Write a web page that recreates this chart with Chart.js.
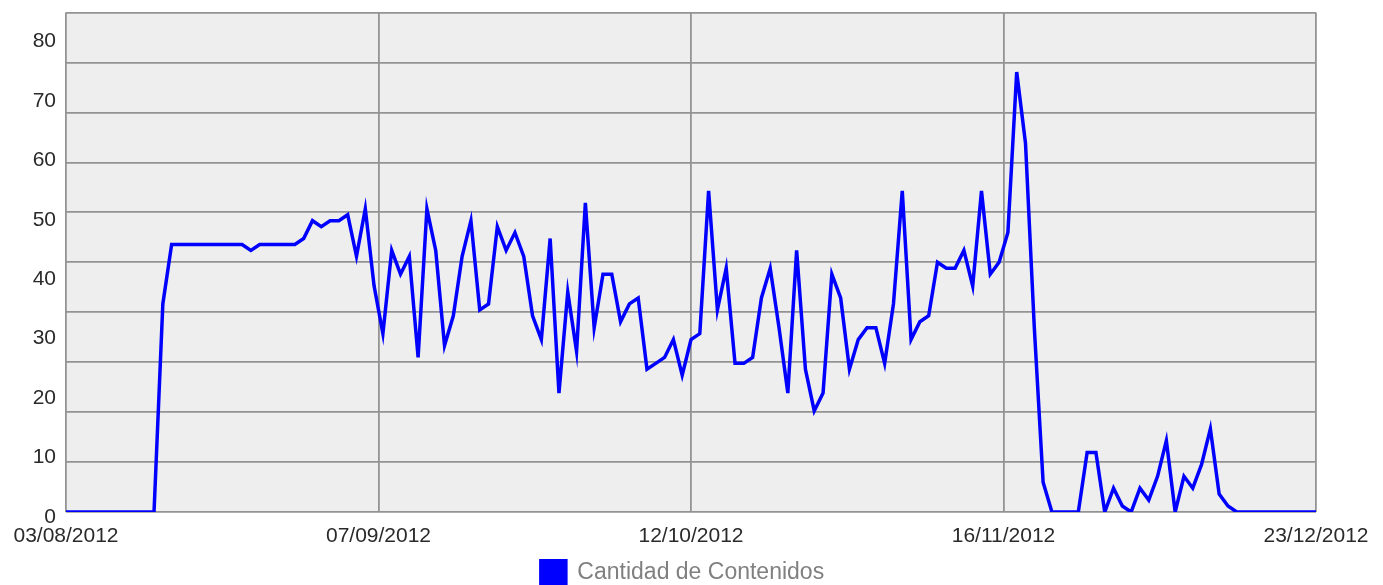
<!DOCTYPE html>
<html>
<head>
<meta charset="utf-8">
<script src="https://cdn.jsdelivr.net/npm/chart.js@4.4.1/dist/chart.umd.min.js"></script>
<style>
  html, body { margin: 0; padding: 0; background: #fff; }
  canvas { display: block; }
</style>
</head>
<body>
<canvas id="chart" width="1383" height="585"></canvas>
<script>
// daily values, 03/08/2012 .. 23/12/2012
const values = [
  0,0,0,0,0,0,0,0,0,0,0,
  35,45,45,45,45,45,45,45,45,45,44,45,45,45,45,45,
  46,49,48,49,49,50,43,51,38,30,44,40,43,26,51,44,28,33,43,49,34,35,48,44,47,43,33,29,
  46,20,37,27,52,31,40,40,32,35,36,24,25,26,29,23,29,30,54,34,41,25,25,26,36,41,31,20,
  44,24,17,20,40,36,24,29,31,31,25,35,54,29,32,33,42,41,41,44,38,54,40,42,47,74,62,31,5,
  0,0,0,0,10,10,0,4,1,0,4,2,6,12,0,6,4,8,14,3,1,
  0,0,0,0,0,0,0,0,0,0
];
const xTickLabels = ['03/08/2012', '07/09/2012', '12/10/2012', '16/11/2012', '23/12/2012'];
const yTickValues = [0, 10, 20, 30, 40, 50, 60, 70, 80];
const seriesName = 'Cantidad de Contenidos';

const lastIdx = values.length - 1;
const xTickPos = xTickLabels.map((_, i) => lastIdx * i / (xTickLabels.length - 1));
const gridColor = '#939393';
const tickFont = { family: 'Liberation Sans', size: 21 };

const plotBg = {
  id: 'plotBg',
  beforeDraw(chart) {
    const a = chart.chartArea, c = chart.ctx;
    c.save();
    c.fillStyle = '#eeeeee';
    c.fillRect(a.left, a.top, a.right - a.left, a.bottom - a.top);
    c.restore();
  }
};

new Chart(document.getElementById('chart'), {
  type: 'line',
  data: {
    datasets: [{
      label: seriesName,
      data: values.map((v, i) => ({ x: i, y: v })),
      xAxisID: 'x',
      yAxisID: 'y',
      borderColor: '#0000ff',
      backgroundColor: '#0000ff',
      borderWidth: 3.5,
      pointRadius: 0,
      tension: 0
    }]
  },
  options: {
    responsive: false,
    animation: false,
    layout: { padding: { left: 0, right: 18, top: 12, bottom: -10 } },
    plugins: {
      tooltip: { enabled: false },
      legend: {
        position: 'bottom',
        labels: {
          boxWidth: 25, boxHeight: 25, padding: 1,
          color: '#808080',
          font: { family: 'Liberation Sans', size: 23 }
        }
      }
    },
    scales: {
      x: {
        type: 'linear', min: 0, max: lastIdx,
        afterBuildTicks: s => { s.ticks = xTickPos.map(v => ({ value: v })); },
        afterFit: s => { s.height = 47; },
        ticks: {
          autoSkip: false, maxRotation: 0, padding: 12,
          color: '#2a2a2a', font: tickFont,
          callback: (v, i) => xTickLabels[i]
        },
        grid: { color: gridColor, lineWidth: 1.8, drawTicks: false },
        border: { display: false }
      },
      // horizontal grid: 10 equal bands, drawn by its own hidden axis
      yg: {
        position: 'left',
        min: 0, max: 10,
        ticks: { display: false, stepSize: 1 },
        afterFit: s => { s.width = 10; },
        grid: { color: gridColor, lineWidth: 1.8, drawTicks: false },
        border: { display: false }
      },
      y: {
        position: 'left',
        min: 0, max: 84,
        afterBuildTicks: s => { s.ticks = yTickValues.map(v => ({ value: v })); },
        afterFit: s => { s.width = 56; },
        ticks: { padding: 0, labelOffset: 5, color: '#2a2a2a', font: tickFont },
        grid: { display: false, drawTicks: false },
        border: { display: false }
      },
      // spacer on the right so the legend sits where the original has it
      yr: {
        position: 'right',
        min: 0, max: 1,
        ticks: { display: false },
        afterFit: s => { s.width = 49; },
        grid: { display: false, drawTicks: false },
        border: { display: false }
      }
    }
  },
  plugins: [plotBg]
});
</script>
</body>
</html>
